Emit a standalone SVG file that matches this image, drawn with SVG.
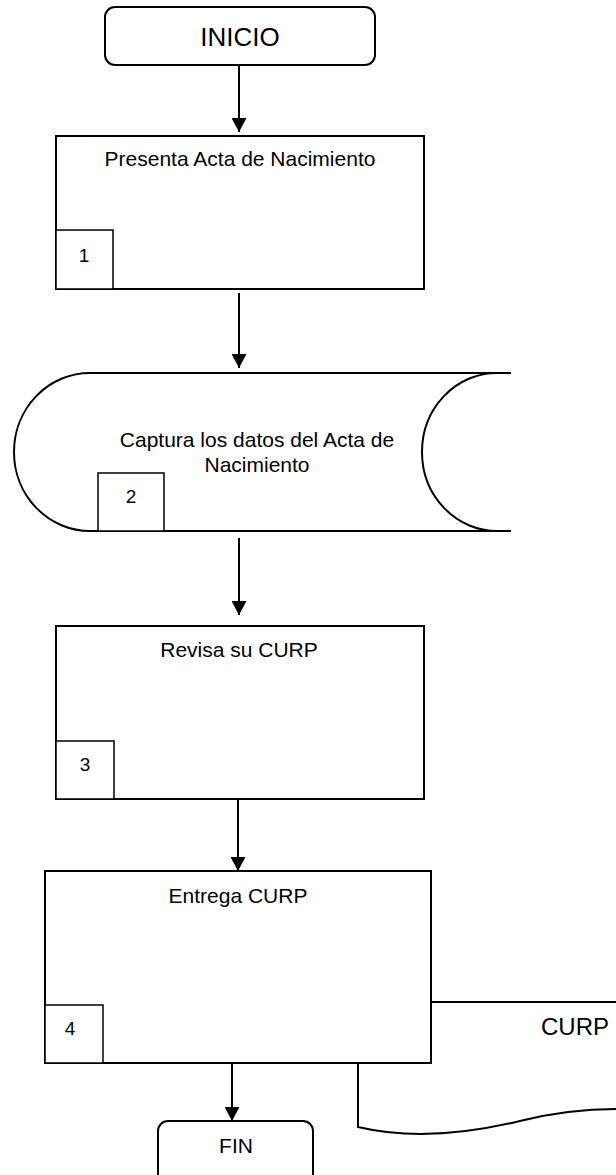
<svg xmlns="http://www.w3.org/2000/svg" width="616" height="1175" viewBox="0 0 616 1175">
<style>
.box{fill:#fff;stroke:#000;stroke-width:2}
.num{fill:#fff;stroke:#000;stroke-width:1.5}
.t{font-family:"Liberation Sans",Arial,sans-serif;font-size:21px;fill:#000;text-anchor:middle}
.n{font-family:"Liberation Sans",Arial,sans-serif;font-size:19px;fill:#000;text-anchor:middle}
.c{stroke:#000;stroke-width:2;fill:none}
</style>
<defs>
<marker id="ah" markerUnits="userSpaceOnUse" markerWidth="15" markerHeight="15" refX="14" refY="7.5" orient="auto" viewBox="0 0 15 15">
<path d="M0,0 L14,7.5 L0,15 z" fill="#000"/>
</marker>
</defs>
<rect width="616" height="1175" fill="#fff"/>
<g id="inicio">
<rect class="box" x="105" y="7" width="270" height="58" rx="10"/>
<text class="t" x="240" y="46" style="font-size:26px">INICIO</text>
</g>
<g id="paso1">
<rect class="box" x="56" y="136" width="368" height="153"/>
<text class="t" x="240" y="166">Presenta Acta de Nacimiento</text>
<rect class="num" x="56" y="230" width="57" height="59"/>
<text class="n" x="84" y="262">1</text>
</g>
<g id="paso2">
<path class="box" d="M511,373 L90,373 A76,79 0 0 0 90,531 L511,531"/>
<path class="c" d="M497,373 A75,79 0 0 0 497,531"/>
<text class="t" x="257" y="447">Captura los datos del Acta de</text>
<text class="t" x="257" y="472">Nacimiento</text>
<rect class="num" x="98" y="473" width="66" height="58"/>
<text class="n" x="131" y="503">2</text>
</g>
<g id="paso3">
<rect class="box" x="56" y="626" width="368" height="173"/>
<text class="t" x="239" y="657">Revisa su CURP</text>
<rect class="num" x="56" y="741" width="58" height="58"/>
<text class="n" x="85" y="771">3</text>
</g>
<g id="documento">
<path class="box" d="M616,1002 L358,1002 L358,1127 C400,1137 450,1138 520,1121 C560,1111 590,1109 616,1109"/>
<text x="541" y="1035" style="font-family:'Liberation Sans',Arial,sans-serif;font-size:24px">CURP</text>
</g>
<g id="paso4">
<rect class="box" x="45" y="871" width="386" height="192"/>
<text class="t" x="238" y="903">Entrega CURP</text>
<rect class="num" x="45" y="1005" width="58" height="58"/>
<text class="n" x="70" y="1035">4</text>
</g>
<g id="fin">
<rect class="box" x="158" y="1121" width="155" height="70" rx="10"/>
<text class="t" x="236" y="1153">FIN</text>
</g>
<g id="conectores">
<line class="c" x1="239" y1="65" x2="239" y2="132" marker-end="url(#ah)"/>
<line class="c" x1="239" y1="293" x2="239" y2="368" marker-end="url(#ah)"/>
<line class="c" x1="239" y1="538" x2="239" y2="615" marker-end="url(#ah)"/>
<line class="c" x1="238" y1="799" x2="238" y2="871" marker-end="url(#ah)"/>
<line class="c" x1="232" y1="1063" x2="232" y2="1121" marker-end="url(#ah)"/>
</g>
</svg>
